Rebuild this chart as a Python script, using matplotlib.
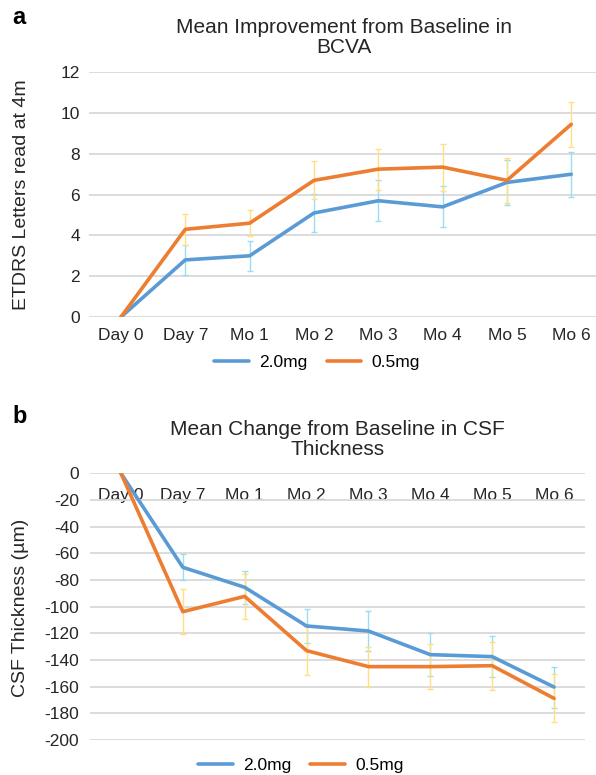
import numpy as np
import matplotlib
matplotlib.use("Agg")
import matplotlib.pyplot as plt

plt.rcParams['font.family'] = ['Liberation Sans', 'DejaVu Sans']
plt.rcParams['axes.unicode_minus'] = False

# categories on the x axis
timepoints = ["Day 0", "Day 7", "Mo 1", "Mo 2", "Mo 3", "Mo 4", "Mo 5", "Mo 6"]
groups = ["2.0mg", "0.5mg"]

# panel a: BCVA improvement (ETDRS letters)
bcva_20 = [0, 2.8, 3.0, 5.1, 5.7, 5.4, 6.6, 7.0]
bcva_05 = [0, 4.3, 4.6, 6.7, 7.25, 7.35, 6.7, 9.45]
bcva_20_err = [0, 0.75, 0.75, 0.92, 1.0, 1.0, 1.1, 1.1]
bcva_05_err = [0, 0.75, 0.65, 0.93, 1.0, 1.15, 1.1, 1.1]

# panel b: change in CSF thickness (um)
csf_20 = [0, -70.5, -85.5, -114.5, -118.3, -136, -137.5, -160.3]
csf_05 = [0, -103.8, -92.3, -133, -145, -145, -144.3, -168.8]
csf_20_err = [0, 9.7, 12.5, 13, 15, 16, 15.5, 15.4]
csf_05_err = [0, 16.7, 17, 18, 15, 17, 18, 18]

line_colors = ["#5B9BD5", "#ED7D31"]
err_colors = ["#9ADCF2", "#FFDF80"]
grid_color = "#D9D9D9"
text_color = "#262626"

fig = plt.figure(figsize=(5.96, 7.75), dpi=100)
ax_a = fig.add_axes([0.149, 0.591, 0.857, 0.3157])
ax_b = fig.add_axes([0.151, 0.0452, 0.8305, 0.3441])

x = np.arange(len(timepoints))


def style_axes(ax):
    for s in ax.spines.values():
        s.set_visible(False)
    ax.grid(axis='y', color=grid_color, linewidth=1.3)
    ax.set_axisbelow(True)
    ax.tick_params(axis='both', length=0, labelsize=12.5, colors=text_color)


def draw_series(ax, series, errors):
    for vals, errs, lc, ec, name in zip(series, errors, line_colors, err_colors, groups):
        vals = np.array(vals, dtype=float)
        errs = np.array(errs, dtype=float)
        ax.errorbar(x[1:], vals[1:], yerr=errs[1:], fmt='none', ecolor=ec,
                    elinewidth=1, capsize=2.5, capthick=1, zorder=2)
        ax.plot(x, vals, color=lc, linewidth=2.6, label=name, zorder=3,
                solid_capstyle='round', solid_joinstyle='round')


legend_kw = dict(loc='center', ncol=2, frameon=False, fontsize=12.5, handlelength=2.0,
                 handletextpad=0.6, columnspacing=1.1)

# ---- panel a ----
draw_series(ax_a, [bcva_20, bcva_05], [bcva_20_err, bcva_05_err])
style_axes(ax_a)
ax_a.set_xlim(-0.5, 7.44)
ax_a.set_ylim(0, 12)
ax_a.set_yticks(np.arange(0, 13, 2))
ax_a.set_xticks(x)
ax_a.set_xticklabels(timepoints)
ax_a.tick_params(axis='x', pad=8)
ax_a.tick_params(axis='y', pad=6.5)
ax_a.set_title("Mean Improvement from Baseline in\nBCVA", fontsize=15, pad=13.7,
               color=text_color, linespacing=1.1)
ax_a.set_ylabel("ETDRS Letters read at 4m", fontsize=14, color=text_color)
ax_a.yaxis.set_label_coords(-0.115, 0.5)
ax_a.legend(bbox_to_anchor=(0.532, 0.532), bbox_transform=fig.transFigure, **legend_kw)

# ---- panel b ----
draw_series(ax_b, [csf_20, csf_05], [csf_20_err, csf_05_err])
style_axes(ax_b)
ax_b.set_xlim(-0.5, 7.5)
ax_b.set_ylim(-200, 0)
ax_b.set_yticks(np.arange(-200, 1, 20))
ax_b.set_xticks(x)
ax_b.set_xticklabels(timepoints)
ax_b.tick_params(axis='x', top=False, bottom=False, labeltop=True, labelbottom=False,
                 pad=-21.5)
ax_b.tick_params(axis='y', pad=8)
ax_b.set_title("Mean Change from Baseline in CSF\nThickness", fontsize=15, pad=13,
               color=text_color, linespacing=1.1)
ax_b.set_ylabel("CSF Thickness (\u00b5m)", fontsize=14, color=text_color)
ax_b.yaxis.set_label_coords(-0.123, 0.497)
ax_b.legend(bbox_to_anchor=(0.505, 0.0129), bbox_transform=fig.transFigure, **legend_kw)

# panel letters
fig.text(12 / 596, 1 - 24 / 775, "a", fontsize=17, fontweight='bold', va='baseline')
fig.text(12 / 596, 1 - 423 / 775, "b", fontsize=17, fontweight='bold', va='baseline')

fig.savefig("out.png", dpi=100)
